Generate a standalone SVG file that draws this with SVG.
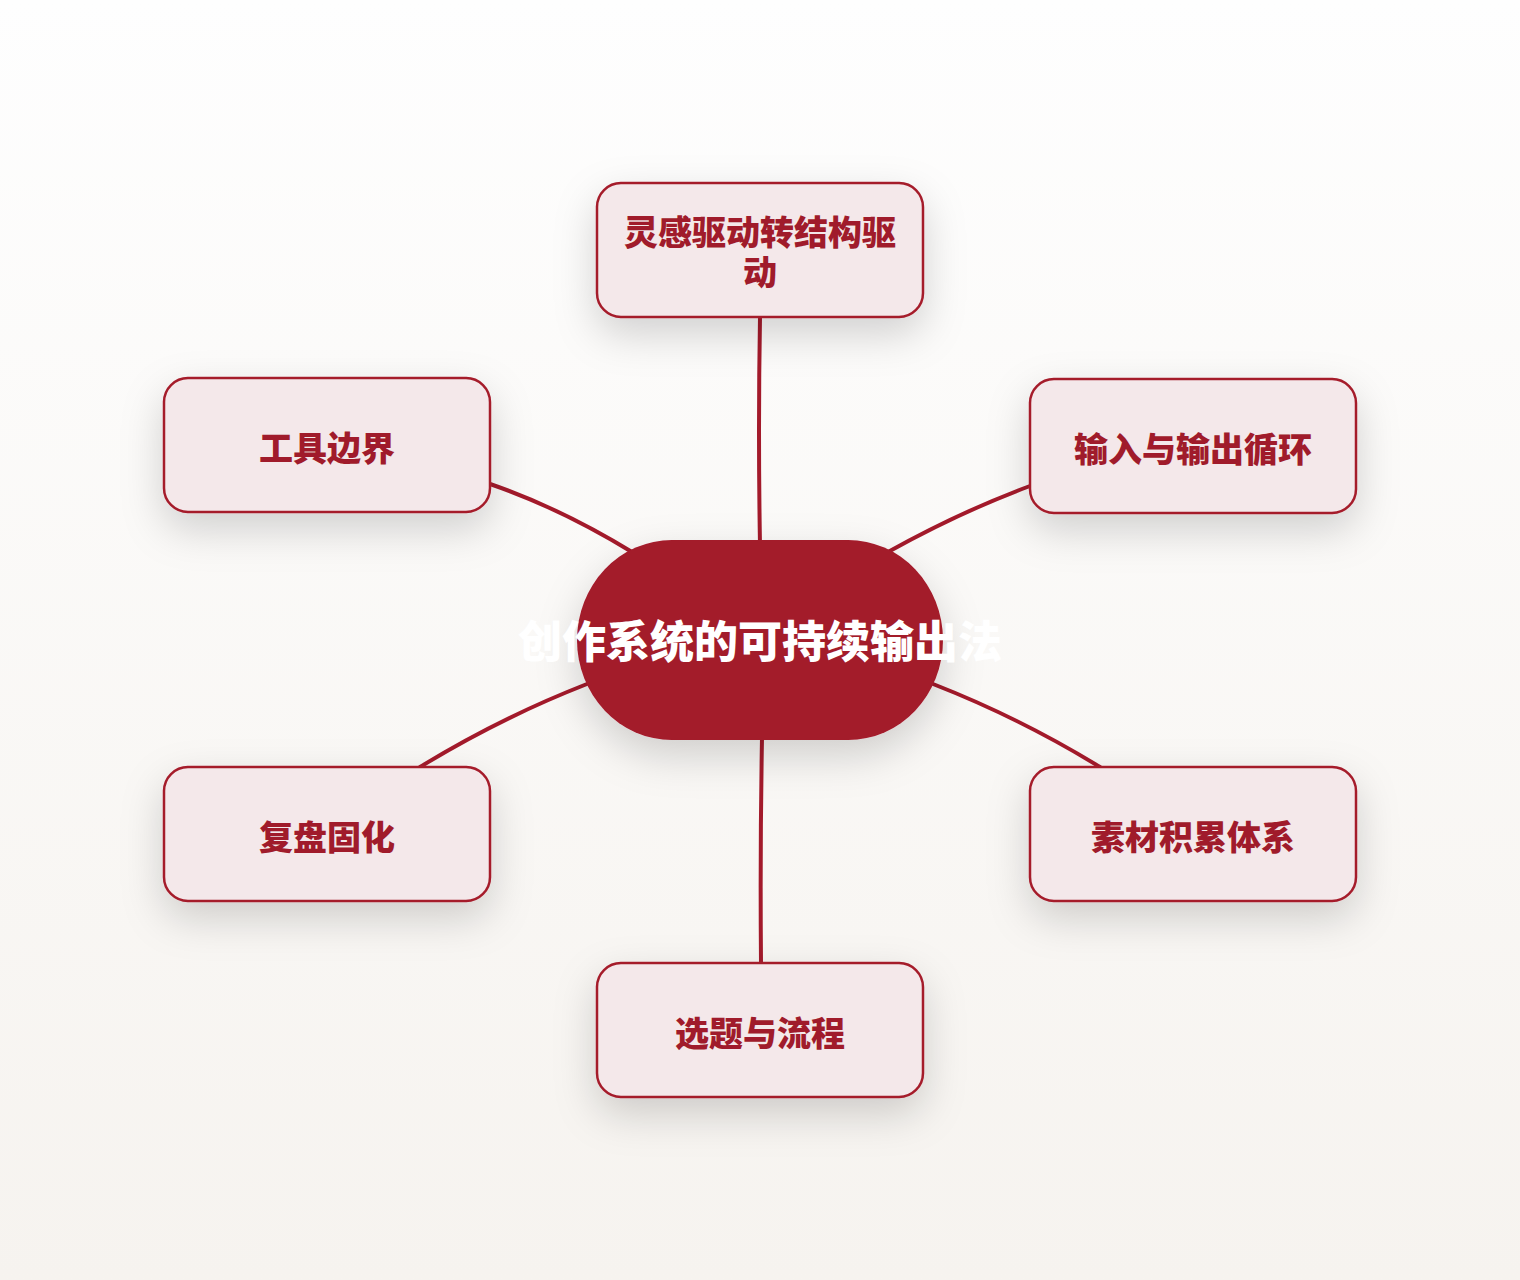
<svg xmlns="http://www.w3.org/2000/svg" width="1520" height="1280" viewBox="0 0 1520 1280">
<defs>
<linearGradient id="bg" x1="0" y1="0" x2="0" y2="1">
<stop offset="0" stop-color="#fefefe"/>
<stop offset="1" stop-color="#f6f3ef"/>
</linearGradient>
<filter id="sh" x="-40%" y="-40%" width="180%" height="200%">
<feDropShadow dx="0" dy="16" stdDeviation="20" flood-color="#000" flood-opacity="0.17"/>
</filter>
</defs>
<style>
.node rect{fill:#f4e8ea;stroke:#a51c2c;stroke-width:2.5;filter:url(#sh)}
.node text{fill:#a01b2b;font-family:"Noto Sans CJK SC","Noto Sans",sans-serif;font-weight:900;font-size:34px;text-anchor:middle}
.edges path{fill:none;stroke:#a31a2b;stroke-width:4;stroke-linecap:round}
.center text{fill:#ffffff;font-family:"Noto Sans CJK SC","Noto Sans",sans-serif;font-weight:900;font-size:44px;text-anchor:middle}
</style>
<rect x="0" y="0" width="1520" height="1280" fill="url(#bg)"/>
<g class="edges">
<path d="M760 317 Q758 430 760 545"/>
<path d="M490 484 Q560 508 632 552"/>
<path d="M1030 486 Q960 512 888 552"/>
<path d="M587 684 Q500 718 420 767"/>
<path d="M933 684 Q1020 718 1100 767"/>
<path d="M762 738 Q760 850 761 963"/>
</g>
<g id="center" class="center">
<rect x="577" y="540" width="366" height="200" rx="95" ry="100" fill="#a31a2b" filter="url(#sh)"/>
<text x="760" y="658">创作系统的可持续输出法</text>
</g>
<g id="n1" class="node">
<rect x="597" y="183" width="326" height="134" rx="24"/>
<text x="760" y="245">灵感驱动转结构驱<tspan x="760" dy="40">动</tspan></text>
</g>
<g id="n2" class="node">
<rect x="1030" y="379" width="326" height="134" rx="24"/>
<text x="1193" y="462">输入与输出循环</text>
</g>
<g id="n3" class="node">
<rect x="1030" y="767" width="326" height="134" rx="24"/>
<text x="1193" y="850">素材积累体系</text>
</g>
<g id="n4" class="node">
<rect x="597" y="963" width="326" height="134" rx="24"/>
<text x="760" y="1046">选题与流程</text>
</g>
<g id="n5" class="node">
<rect x="164" y="767" width="326" height="134" rx="24"/>
<text x="327" y="850">复盘固化</text>
</g>
<g id="n6" class="node">
<rect x="164" y="378" width="326" height="134" rx="24"/>
<text x="327" y="461">工具边界</text>
</g>
</svg>
